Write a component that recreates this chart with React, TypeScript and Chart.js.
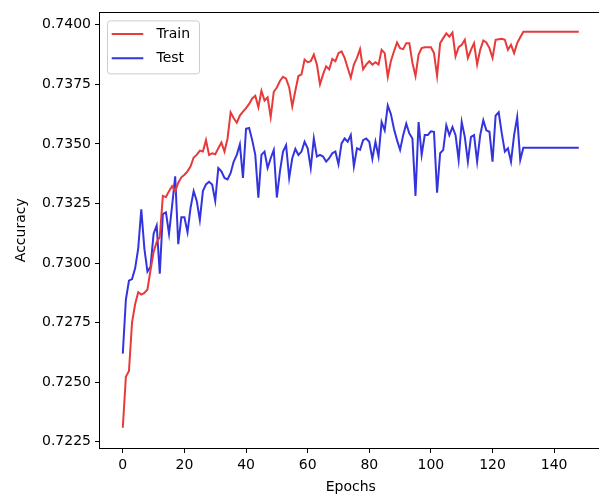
import React, { useEffect, useRef } from 'react';
import { Chart, registerables } from 'chart.js';

Chart.register(...registerables);

const seriesNames = ['Train', 'Test'];
const seriesColors = ['rgb(232,58,58)', 'rgb(52,52,222)'];

const trainAcc = [
  0.72309, 0.72523, 0.72547, 0.72751, 0.72827, 0.72878, 0.72868, 0.72875, 0.72889, 0.72971,
  0.73047, 0.73089, 0.73109, 0.73282, 0.73277, 0.73302, 0.73323, 0.73302, 0.73337, 0.73360,
  0.73371, 0.73385, 0.73406, 0.73443, 0.73454, 0.73472, 0.73468, 0.73516, 0.73454, 0.73461,
  0.73457, 0.73482, 0.73506, 0.73468, 0.73523, 0.73633, 0.73608, 0.73589, 0.73619, 0.73636,
  0.73650, 0.73668, 0.73691, 0.73702, 0.73654, 0.73723, 0.73682, 0.73695, 0.73613, 0.73719,
  0.73737, 0.73764, 0.73782, 0.73774, 0.73737, 0.73658,
  0.73723, 0.73785, 0.73792, 0.73854, 0.73843, 0.73847, 0.73875, 0.73833, 0.73750, 0.73792,
  0.73826, 0.73813, 0.73857, 0.73847, 0.73881, 0.73888, 0.73861, 0.73819, 0.73778, 0.73833,
  0.73861, 0.73898, 0.73813, 0.73833, 0.73847, 0.73833, 0.73843, 0.73833, 0.73895, 0.73881,
  0.73782, 0.73847, 0.73888, 0.73926, 0.73902, 0.73898, 0.73923, 0.73923, 0.73840, 0.73785,
  0.73875, 0.73902, 0.73906, 0.73906, 0.73906,
  0.73881, 0.73785, 0.73923, 0.73944, 0.73964, 0.73950, 0.73967, 0.73868, 0.73906, 0.73916,
  0.73937, 0.73861, 0.73895, 0.73923, 0.73833, 0.73895, 0.73934, 0.73926, 0.73902, 0.73861,
  0.73937, 0.73939, 0.73941, 0.73937, 0.73895, 0.73916, 0.73881, 0.73923, 0.73948,
  0.73971, 0.73971, 0.73971, 0.73971, 0.73971, 0.73971, 0.73971, 0.73971, 0.73971, 0.73971,
  0.73971, 0.73971, 0.73971, 0.73971, 0.73971, 0.73971, 0.73971, 0.73971, 0.73971,
];

const testAcc = [
  0.72620, 0.72847, 0.72926, 0.72933, 0.72978, 0.73061, 0.73226, 0.73061, 0.72964, 0.72985,
  0.73123, 0.73158, 0.72955, 0.73206, 0.73213, 0.73123, 0.73240, 0.73364, 0.73079, 0.73192,
  0.73192, 0.73130, 0.73233, 0.73302, 0.73261, 0.73181, 0.73302, 0.73330, 0.73341, 0.73330,
  0.73261, 0.73399, 0.73385, 0.73357, 0.73351, 0.73378, 0.73426, 0.73454, 0.73498, 0.73357,
  0.73564, 0.73567,
  0.73516, 0.73454, 0.73275, 0.73454, 0.73468, 0.73399, 0.73440, 0.73475, 0.73275, 0.73385,
  0.73468, 0.73495, 0.73357, 0.73440, 0.73479, 0.73454, 0.73468, 0.73509, 0.73482, 0.73399,
  0.73523, 0.73447, 0.73454, 0.73447, 0.73426, 0.73440, 0.73461, 0.73468, 0.73415, 0.73502,
  0.73523, 0.73509, 0.73537, 0.73406, 0.73482, 0.73475, 0.73516, 0.73523, 0.73509, 0.73437,
  0.73509, 0.73447, 0.73592, 0.73557, 0.73661, 0.73626, 0.73564, 0.73516, 0.73475, 0.73537,
  0.73585, 0.73544, 0.73523, 0.73282, 0.73592, 0.73454, 0.73537, 0.73537, 0.73553,
  0.73551, 0.73295, 0.73461, 0.73475, 0.73578, 0.73537, 0.73571, 0.73537, 0.73433, 0.73592,
  0.73530, 0.73426, 0.73530, 0.73537, 0.73426, 0.73537, 0.73599, 0.73557, 0.73551, 0.73426,
  0.73619, 0.73633, 0.73544, 0.73468, 0.73482, 0.73426, 0.73537, 0.73613, 0.73433,
  0.73484, 0.73484, 0.73484, 0.73484, 0.73484, 0.73484, 0.73484, 0.73484, 0.73484, 0.73484,
  0.73484, 0.73484, 0.73484, 0.73484, 0.73484, 0.73484, 0.73484, 0.73484, 0.73484,
];

const xTicks = [0, 20, 40, 60, 80, 100, 120, 140];
const yTicks = [0.7225, 0.725, 0.7275, 0.73, 0.7325, 0.735, 0.7375, 0.74];
const xTitle = 'Epochs';
const yTitle = 'Accuracy';

const FONT = "'DejaVu Sans', sans-serif";

export default function App() {
  const ref = useRef<HTMLCanvasElement>(null);

  useEffect(() => {
    const frame = {
      id: 'frame',
      afterDatasetsDraw(chart: any) {
        const { ctx, chartArea: a } = chart;
        ctx.save();
        ctx.strokeStyle = '#000';
        ctx.lineWidth = 1;
        const l = Math.round(a.left) - 0.5;
        const t = Math.round(a.top) + 0.5;
        const r = Math.round(a.right) + 0.5;
        const b = Math.round(a.bottom) + 0.5;
        ctx.strokeRect(l, t, r - l, b - t);
        ctx.restore();
      },
    };
    const legendBox = {
      id: 'legendBox',
      afterDraw(chart: any) {
        const { ctx, chartArea: a } = chart;
        ctx.save();
        const bx = a.left + 7.5;
        const by = a.top + 8.5;
        const bw = 92;
        const bh = 53;
        ctx.beginPath();
        ctx.roundRect(bx, by, bw, bh, 3);
        ctx.fillStyle = 'rgba(255,255,255,0.8)';
        ctx.fill();
        ctx.strokeStyle = '#cccccc';
        ctx.lineWidth = 1;
        ctx.stroke();
        chart.data.datasets.forEach((ds: any, i: number) => {
          const y = a.top + 21.5 + i * 24.3;
          ctx.beginPath();
          ctx.moveTo(a.left + 11.7, y);
          ctx.lineTo(a.left + 43.3, y);
          ctx.strokeStyle = ds.borderColor;
          ctx.lineWidth = 2;
          ctx.stroke();
          ctx.fillStyle = '#000';
          ctx.font = `14px ${FONT}`;
          ctx.textBaseline = 'middle';
          ctx.textAlign = 'left';
          ctx.fillText(ds.label, a.left + 56.5, y);
        });
        ctx.restore();
      },
    };

    const chart = new Chart(ref.current as HTMLCanvasElement, {
      type: 'line',
      data: {
        datasets: [trainAcc, testAcc].map((arr, i) => ({
          label: seriesNames[i],
          data: arr.map((v, k) => ({ x: k, y: v })),
          borderColor: seriesColors[i],
          backgroundColor: seriesColors[i],
          borderWidth: 2,
          pointRadius: 0,
          tension: 0,
          fill: false,
        })),
      },
      options: {
        responsive: false,
        animation: false,
        parsing: false as any,
        normalized: true,
        layout: { padding: { top: 6, right: 10.4, left: 0, bottom: 0 } },
        plugins: {
          legend: { display: false },
          tooltip: { enabled: false },
        },
        scales: {
          x: {
            type: 'linear',
            min: -7.4,
            max: 155.4,
            afterBuildTicks: (s: any) => {
              s.ticks = xTicks.map((v) => ({ value: v }));
            },
            afterFit: (s: any) => {
              s.height = 51;
            },
            ticks: {
              color: '#000',
              font: { family: FONT, size: 14 },
              padding: 4,
              maxRotation: 0,
              autoSkip: false,
              callback: (v: any) => String(v),
            },
            grid: { drawOnChartArea: false, drawTicks: true, tickLength: 5, tickColor: '#000', tickWidth: 1 },
            border: { display: false },
            title: {
              display: true,
              text: xTitle,
              color: '#000',
              font: { family: FONT, size: 14 },
              padding: { top: 3, bottom: 3 },
            },
          },
          y: {
            type: 'linear',
            min: 0.72224,
            max: 0.74052,
            afterBuildTicks: (s: any) => {
              s.ticks = yTicks.map((v) => ({ value: v }));
            },
            afterFit: (s: any) => {
              s.width = 100;
            },
            ticks: {
              color: '#000',
              font: { family: FONT, size: 14 },
              padding: 4,
              autoSkip: false,
              callback: (v: any) => Number(v).toFixed(4),
            },
            grid: { drawOnChartArea: false, drawTicks: true, tickLength: 5, tickColor: '#000', tickWidth: 1 },
            border: { display: false },
            title: {
              display: true,
              text: yTitle,
              color: '#000',
              font: { family: FONT, size: 14 },
              padding: { top: 13, bottom: 3 },
            },
          },
        },
      },
      plugins: [frame, legendBox],
    });
    return () => chart.destroy();
  }, []);

  return (
    <div
      style={{
        position: 'fixed',
        left: 0,
        top: 0,
        width: 599,
        height: 499,
        overflow: 'hidden',
        background: '#fff',
      }}
    >
      <canvas ref={ref} width={612} height={499} style={{ display: 'block' }} />
    </div>
  );
}
